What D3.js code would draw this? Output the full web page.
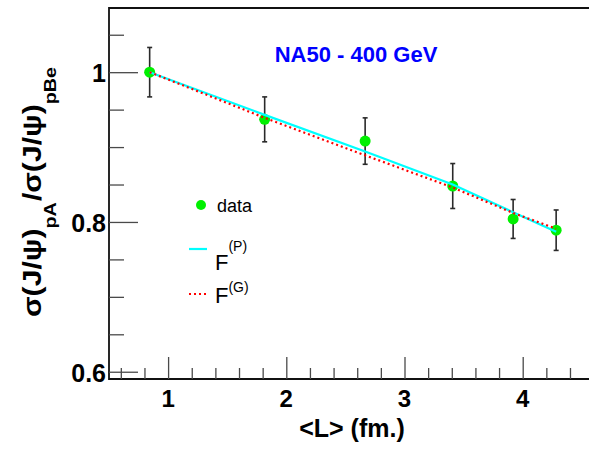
<!DOCTYPE html>
<html>
<head>
<meta charset="utf-8">
<script src="https://cdn.jsdelivr.net/npm/d3@7"></script>
<style>
  html, body { margin: 0; padding: 0; background: #fff; }
  svg { display: block; font-family: "Liberation Sans", Arial, Helvetica, sans-serif; }
</style>
</head>
<body>
<svg id="chart" width="589" height="449"></svg>
<script>
// Mean path length <L> (fm) for each target
const pathLength = [0.844, 1.817, 2.667, 3.408, 3.919, 4.283];
// Measured ratio sigma(J/psi)_pA / sigma(J/psi)_pBe and its error
const ratio = [1.000, 0.937, 0.908, 0.848, 0.804, 0.789];
const ratioErr = [0.033, 0.030, 0.031, 0.030, 0.026, 0.027];
// Model curves evaluated at the same <L>
const fitP = [1.000, 0.943, 0.894, 0.850, 0.813, 0.787];
const fitG = [1.000, 0.939, 0.889, 0.846, 0.812, 0.791];
// Axis ticks
const xMajorTicks = [1, 2, 3, 4];
const yMajorTicks = [0.6, 0.8, 1.0];
const yTickLabels = ["0.6", "0.8", "1"];

const svg = d3.select("#chart");
const frame = { left: 109, top: 8, bottom: 379 };

const x = d3.scaleLinear().domain([0.5, 4.6]).range([frame.left, frame.left + 4.1 * 118.2]);
const y = d3.scaleLinear().domain([0.5903, 1.0857]).range([frame.bottom, frame.top]);

const tickColor = "#4a4a4a";
const green = "#00f000";

// Frame
const right = x.range()[1];
svg.append("path")
  .attr("d", `M${frame.left},${frame.bottom}V${frame.top}H${right}V${frame.bottom}Z`)
  .attr("fill", "none").attr("stroke", "#111").attr("stroke-width", 1.8);

// X axis: major ticks every 1, minor every 0.2
const xMinor = d3.range(0.6, 4.61, 0.2).filter(v => Math.abs(v - Math.round(v)) > 1e-6);
const xAxisMajor = d3.axisTop(x).tickValues(xMajorTicks).tickSize(22).tickFormat("");
const xAxisMinor = d3.axisTop(x).tickValues(xMinor).tickSize(11).tickFormat("");
[xAxisMajor, xAxisMinor].forEach(ax => {
  const g = svg.append("g").attr("transform", `translate(0,${frame.bottom})`).call(ax);
  g.select(".domain").remove();
  g.selectAll(".tick line").attr("stroke", tickColor).attr("stroke-width", 1.3);
});
svg.append("g").selectAll("text").data(xMajorTicks).join("text")
  .attr("x", d => x(d)).attr("y", 406.5)
  .attr("text-anchor", "middle")
  .attr("font-size", 24).attr("font-weight", "bold").attr("fill", "#000")
  .text(d => d);

// Y axis: major ticks every 0.2, minor every 0.05
const yMinor = d3.range(0.65, 1.06, 0.05).filter(v => !yMajorTicks.some(t => Math.abs(t - v) < 1e-6));
const yAxisMajor = d3.axisRight(y).tickValues(yMajorTicks).tickSize(29).tickFormat("");
const yAxisMinor = d3.axisRight(y).tickValues(yMinor).tickSize(15).tickFormat("");
[yAxisMajor, yAxisMinor].forEach(ax => {
  const g = svg.append("g").attr("transform", `translate(${frame.left},0)`).call(ax);
  g.select(".domain").remove();
  g.selectAll(".tick line").attr("stroke", tickColor).attr("stroke-width", 1.3);
});
svg.append("g").selectAll("text").data(yMajorTicks).join("text")
  .attr("x", 106).attr("y", d => y(d) + 10)
  .attr("text-anchor", "end")
  .attr("font-size", 25).attr("font-weight", "bold").attr("fill", "#000")
  .text((d, i) => yTickLabels[i]);

// Axis titles
svg.append("text")
  .attr("x", 352).attr("y", 437).attr("text-anchor", "middle")
  .attr("font-size", 25).attr("font-weight", "bold").attr("fill", "#000")
  .text("<L> (fm.)");

const yTitle = svg.append("text")
  .attr("font-size", 26).attr("font-weight", "bold").attr("fill", "#000");
yTitle.append("tspan").text("σ(J/ψ)");
yTitle.append("tspan").attr("font-size", 17).attr("dy", 15).text("pA");
yTitle.append("tspan").attr("dy", -15).attr("dx", 1).text("/σ(J/ψ)");
yTitle.append("tspan").attr("font-size", 17).attr("dy", 15).text("pBe");
// stretch the rotated title along its run so it spans 68..317
const titleLen = yTitle.node().getComputedTextLength();
const sx = 249 / titleLen;
yTitle.attr("transform", `translate(41,317) rotate(-90) scale(${sx},1)`);

// Title
svg.append("text")
  .attr("x", 356).attr("y", 61.5).attr("text-anchor", "middle")
  .attr("font-size", 22).attr("font-weight", "bold").attr("fill", "#0000ff")
  .text("NA50 - 400 GeV");

// Data: error bars
const pts = pathLength.map((l, i) => ({ l, v: ratio[i], e: ratioErr[i] }));
const eb = svg.append("g").attr("stroke", "#2a2a2a").attr("stroke-width", 1.6);
eb.selectAll("line.bar").data(pts).join("line").attr("class", "bar")
  .attr("x1", d => x(d.l)).attr("x2", d => x(d.l))
  .attr("y1", d => y(d.v + d.e)).attr("y2", d => y(d.v - d.e));
eb.selectAll("line.capT").data(pts).join("line").attr("class", "capT")
  .attr("x1", d => x(d.l) - 2.5).attr("x2", d => x(d.l) + 2.5)
  .attr("y1", d => y(d.v + d.e)).attr("y2", d => y(d.v + d.e));
eb.selectAll("line.capB").data(pts).join("line").attr("class", "capB")
  .attr("x1", d => x(d.l) - 2.5).attr("x2", d => x(d.l) + 2.5)
  .attr("y1", d => y(d.v - d.e)).attr("y2", d => y(d.v - d.e));

// Data markers
svg.append("g").selectAll("circle").data(pts).join("circle")
  .attr("cx", d => x(d.l)).attr("cy", d => y(d.v)).attr("r", 5.5)
  .attr("fill", green);

// Model curves
const line = d3.line().x(d => x(d[0])).y(d => y(d[1]));
svg.append("path").datum(pathLength.map((l, i) => [l, fitP[i]]))
  .attr("d", line).attr("fill", "none").attr("stroke", "#00ffff").attr("stroke-width", 2.2);
svg.append("path").datum(pathLength.map((l, i) => [l, fitG[i]]))
  .attr("d", line).attr("fill", "none").attr("stroke", "#ff0000").attr("stroke-width", 2.2)
  .attr("stroke-dasharray", "2,3");

// Legend
const lg = svg.append("g");
lg.append("circle").attr("cx", 201).attr("cy", 205).attr("r", 5).attr("fill", green);
lg.append("text").attr("x", 217).attr("y", 212).attr("font-size", 18).attr("fill", "#000").text("data");

lg.append("line").attr("x1", 189).attr("x2", 207).attr("y1", 249).attr("y2", 249)
  .attr("stroke", "#00ffff").attr("stroke-width", 2.2);
const tP = lg.append("text").attr("x", 215).attr("y", 270).attr("font-size", 22).attr("fill", "#000");
tP.append("tspan").text("F");
tP.append("tspan").attr("font-size", 14).attr("dy", -19).text("(P)");

lg.append("line").attr("x1", 189).attr("x2", 207).attr("y1", 294).attr("y2", 294)
  .attr("stroke", "#ff0000").attr("stroke-width", 2.2).attr("stroke-dasharray", "2,3");
const tG = lg.append("text").attr("x", 215).attr("y", 303).attr("font-size", 22).attr("fill", "#000");
tG.append("tspan").text("F");
tG.append("tspan").attr("font-size", 14).attr("dy", -11).text("(G)");
</script>
</body>
</html>
